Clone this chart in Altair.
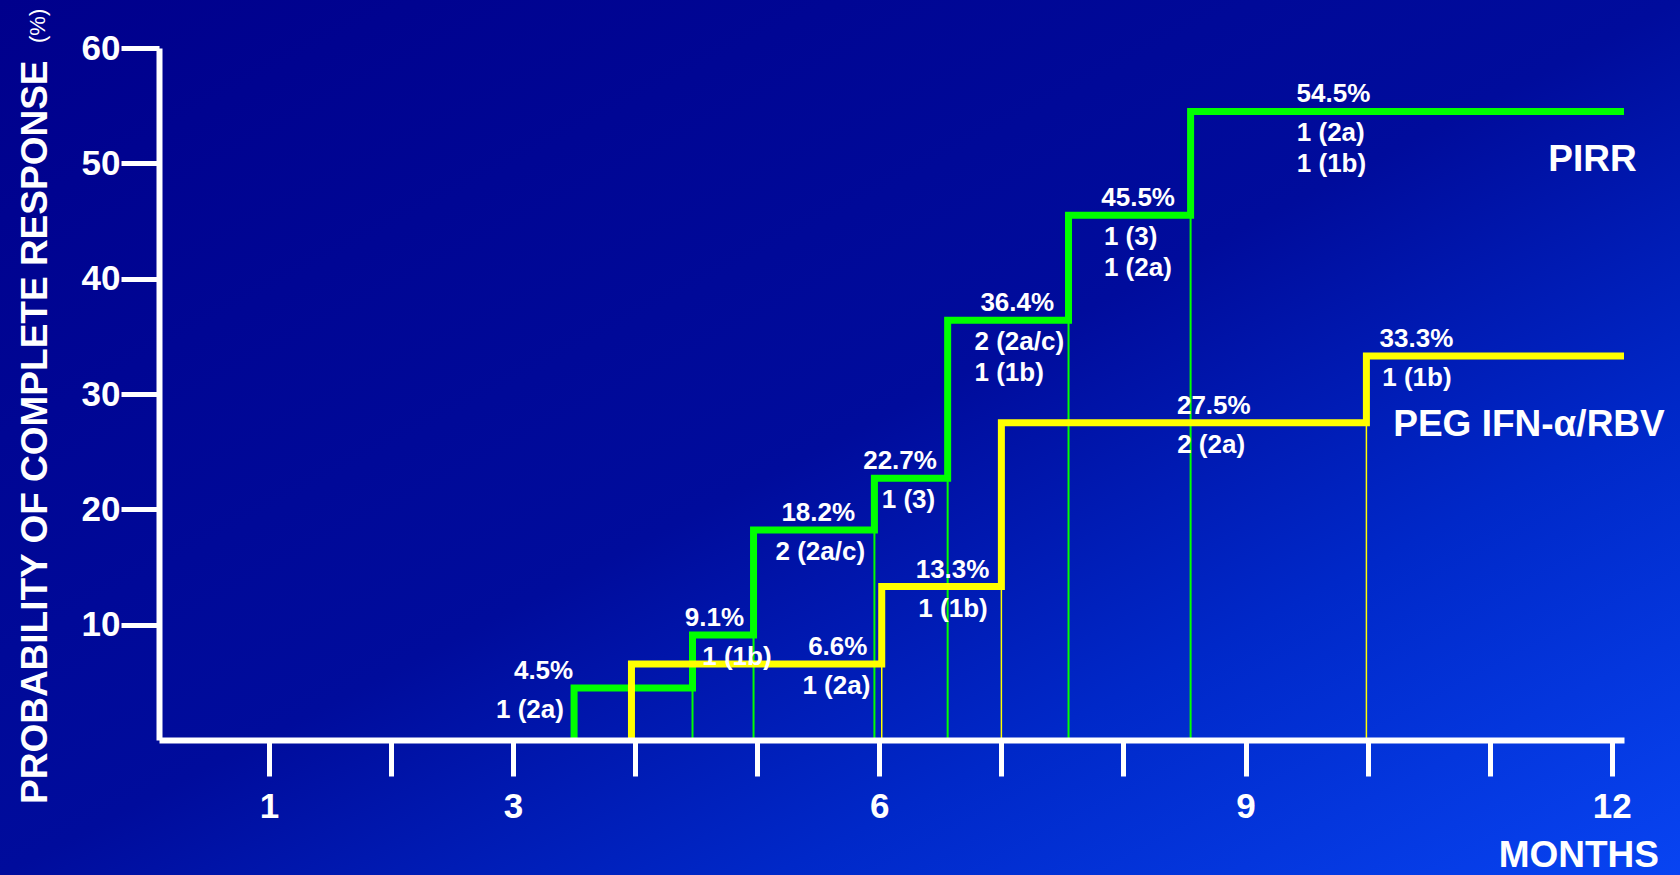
import altair as alt
import pandas as pd

# PIRR arm: month at each step, cumulative complete response (%), responders (genotype)
pirr_step_month = [3.5, 4.47, 4.97, 5.96, 6.56, 7.55, 8.55]
pirr_pct = [4.5, 9.1, 18.2, 22.7, 36.4, 45.5, 54.5]
pirr_counts = [["1 (2a)"], ["1 (1b)"], ["2 (2a/c)"], ["1 (3)"],
               ["2 (2a/c)", "1 (1b)"], ["1 (3)", "1 (2a)"], ["1 (2a)", "1 (1b)"]]
pirr_pct_label_month = [3.25, 4.65, 5.50, 6.17, 7.13, 8.12, 9.72]
pirr_count_label_month = [2.86, 4.55, 5.15, 6.02, 6.78, 7.84, 9.42]

# PEG IFN-alpha/RBV arm
peg_step_month = [3.97, 6.02, 7.0, 9.99]
peg_pct = [6.6, 13.3, 27.5, 33.3]
peg_counts = [["1 (2a)"], ["1 (1b)"], ["2 (2a)"], ["1 (1b)"]]
peg_pct_label_month = [5.66, 6.60, 8.74, 10.40]
peg_count_label_month = [5.37, 6.32, 8.44, 10.12]

series_names = ["PIRR", "PEG IFN-α/RBV"]
series_label_month = [11.48, 10.21]
series_label_pct = [50.3, 27.3]

follow_up_end = 12.1
month_ticks = list(range(1, 13))
month_labels = [1, 3, 6, 9, 12]
pct_ticks = [10, 20, 30, 40, 50, 60]

GREEN = "#00ff00"
YELLOW = "#ffff00"
WHITE = "#ffffff"
FONT = "Liberation Sans"

W, H = 1465, 692
PAD_L, PAD_T = 159, 48


def step_path(months, pcts):
    xs = [months[0]] + list(months) + [follow_up_end]
    ys = [0] + list(pcts) + [pcts[-1]]
    return pd.DataFrame({"month": xs, "pct": ys, "order": list(range(len(xs)))})


def drop_lines(months, pcts):
    return pd.DataFrame({"month": months[1:], "pct": [0] * (len(months) - 1),
                         "top": pcts[:-1]})


def pct_labels(label_months, pcts):
    return pd.DataFrame({"month": label_months, "pct": pcts,
                         "text": [f"{p:.1f}%" for p in pcts]})


def count_labels(label_months, pcts, counts):
    rows = []
    for m, p, lines in zip(label_months, pcts, counts):
        for i, t in enumerate(lines):
            rows.append({"month": m, "pct": p, "text": t, "line": i})
    return pd.DataFrame(rows)


x_enc = alt.X(
    "month:Q",
    scale=alt.Scale(domain=[0.1, follow_up_end], nice=False, zero=False),
    axis=alt.Axis(
        values=month_ticks,
        labelExpr="indexof(" + str(month_labels) + ", datum.value) >= 0 ? datum.label : ''",
        title=None, grid=False, zindex=1,
        domainColor=WHITE, domainWidth=6,
        tickColor=WHITE, tickWidth=5, tickSize=36,
        labelColor=WHITE, labelFont=FONT, labelFontSize=35, labelFontWeight="bold",
        labelPadding=13, labelFlush=False, labelOverlap=False,
    ),
)
y_enc = alt.Y(
    "pct:Q",
    scale=alt.Scale(domain=[0, 60], nice=False, zero=True),
    axis=alt.Axis(
        values=pct_ticks, title=None, grid=False, zindex=1,
        domainColor=WHITE, domainWidth=6,
        tickColor=WHITE, tickWidth=5, tickSize=38,
        labelColor=WHITE, labelFont=FONT, labelFontSize=35, labelFontWeight="bold",
        labelPadding=1, labelFlush=False, labelOverlap=False,
    ),
)

one_row = pd.DataFrame({"k": [0]})

# slide background: diagonal blue gradient across the whole canvas
background = alt.Chart(one_row).mark_rect(
    fill=alt.Gradient(
        gradient="linear", x1=0, y1=0, x2=1, y2=1,
        stops=[
            alt.GradientStop(color="#00008c", offset=0),
            alt.GradientStop(color="#000c9c", offset=0.5),
            alt.GradientStop(color="#0028c8", offset=0.73),
            alt.GradientStop(color="#0844f2", offset=1),
        ],
    )
).encode(
    x=alt.value(-PAD_L), x2=alt.value(1680 - PAD_L),
    y=alt.value(-PAD_T), y2=alt.value(875 - PAD_T),
)


def arm_layers(months, pcts, color, pct_lab_m, cnt_lab_m, counts, rule_w):
    drops = alt.Chart(drop_lines(months, pcts)).mark_rule(
        color=color, strokeWidth=rule_w
    ).encode(x=x_enc, y=y_enc, y2="top:Q")
    line = alt.Chart(step_path(months, pcts)).mark_line(
        color=color, strokeWidth=7, interpolate="step-after",
        strokeJoin="miter", strokeCap="butt",
    ).encode(x=x_enc, y=y_enc, order="order:Q")
    pct_text = alt.Chart(pct_labels(pct_lab_m, pcts)).mark_text(
        color=WHITE, font=FONT, fontSize=26, fontWeight="bold",
        align="center", baseline="middle", dy=-17,
    ).encode(x=x_enc, y=y_enc, text="text:N")
    cdf = count_labels(cnt_lab_m, pcts, counts)
    cnt_text = [
        alt.Chart(cdf[cdf["line"] == i]).mark_text(
            color=WHITE, font=FONT, fontSize=26, fontWeight="bold",
            align="left", baseline="middle", dy=22 + 31 * i,
        ).encode(x=x_enc, y=y_enc, text="text:N")
        for i in (0, 1)
    ]
    return drops, line, pct_text, cnt_text


g_drops, g_line, g_pct, g_cnt = arm_layers(
    pirr_step_month, pirr_pct, GREEN, pirr_pct_label_month,
    pirr_count_label_month, pirr_counts, 2)
y_drops, y_line, y_pct, y_cnt = arm_layers(
    peg_step_month, peg_pct, YELLOW, peg_pct_label_month,
    peg_count_label_month, peg_counts, 1.5)

arm_names = alt.Chart(pd.DataFrame({
    "month": series_label_month, "pct": series_label_pct, "text": series_names,
})).mark_text(
    color=WHITE, font=FONT, fontSize=37, fontWeight="bold",
    align="left", baseline="middle",
).encode(x=x_enc, y=y_enc, text="text:N")

y_title = alt.Chart(one_row).mark_text(
    color=WHITE, font=FONT, fontSize=37, fontWeight="bold",
    angle=270, align="left", baseline="alphabetic",
).encode(x=alt.value(-112), y=alt.value(756),
         text=alt.value("PROBABILITY OF COMPLETE RESPONSE"))

y_unit = alt.Chart(one_row).mark_text(
    color=WHITE, font=FONT, fontSize=22,
    angle=270, align="left", baseline="alphabetic",
).encode(x=alt.value(-114), y=alt.value(-5), text=alt.value("(%)"))

x_title = alt.Chart(one_row).mark_text(
    color=WHITE, font=FONT, fontSize=37, fontWeight="bold",
    align="right", baseline="alphabetic",
).encode(x=alt.value(1500), y=alt.value(819), text=alt.value("MONTHS"))

chart = alt.layer(
    background,
    g_drops, y_drops,
    g_line, y_line,
    g_pct, *g_cnt, y_pct, *y_cnt,
    arm_names, y_title, y_unit, x_title,
).properties(
    width=W, height=H,
    autosize=alt.AutoSizeParams(type="none"),
    padding={"left": PAD_L, "top": PAD_T, "right": 1680 - PAD_L - W, "bottom": 875 - PAD_T - H},
    background="#00008c",
).configure_view(stroke=None)

chart.save("out.html", embed_options={"renderer": "svg", "actions": False})
